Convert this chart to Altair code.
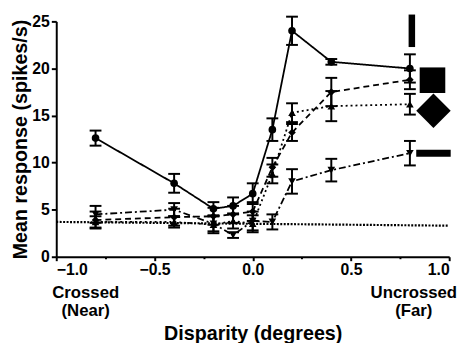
import altair as alt
import pandas as pd

# ---- data ----
disparity = [-0.8, -0.4, -0.2, -0.1, 0.0, 0.1, 0.2, 0.4, 0.8]

bar_mean = [12.6, 7.8, 5.1, 5.4, 6.7, 13.5, 24.0, 20.7, 20.0]
bar_err = [0.8, 1.0, 0.7, 0.9, 1.1, 1.2, 1.5, 0.3, 1.5]

square_mean = [3.9, 4.2, 4.3, 4.5, 4.8, 9.5, 13.2, 17.5, 18.8]
square_err = [0.9, 0.9, 0.9, 0.9, 1.0, 1.0, 0.9, 1.5, 1.0]

diamond_mean = [3.7, 3.7, 3.4, 3.8, 3.5, 8.8, 15.3, 16.0, 16.2]
diamond_err = [0.6, 0.6, 0.9, 0.8, 0.9, 1.0, 1.0, 1.6, 1.1]

dash_mean = [4.5, 5.0, 3.5, 2.3, 3.8, 3.7, 8.0, 9.2, 11.0]
dash_err = [0.9, 0.7, 0.8, 0.3, 1.0, 0.8, 1.3, 1.2, 1.3]

series_names = ["bar", "square", "diamond", "dash"]

baseline_x = [-1.0, 1.0]
baseline_y = [3.7, 3.3]

# stimulus glyphs (icon legend) positioned in data space
glyph_x = [0.81, 0.915, 0.92, 0.92]
glyph_y = [24.0, 18.75, 15.5, 11.0]

note_text = ["Crossed", "(Near)", "Uncrossed", "(Far)"]
note_x = [-0.85, -0.85, 0.82, 0.82]

x_ticks = [-1, -0.75, -0.5, -0.25, 0, 0.25, 0.5, 0.75, 1]
y_ticks = [0, 2.5, 5, 7.5, 10, 12.5, 15, 17.5, 20, 22.5, 25]

FONT = "Liberation Sans"

rows = []
for name, m, e in zip(series_names,
                      [bar_mean, square_mean, diamond_mean, dash_mean],
                      [bar_err, square_err, diamond_err, dash_err]):
    for x, mm, ee in zip(disparity, m, e):
        rows.append({"series": name, "x": x, "mean": mm,
                     "lo": mm - ee, "hi": mm + ee})
df = pd.DataFrame(rows)

xs = alt.Scale(domain=[-1, 1], nice=False, zero=False)
ys = alt.Scale(domain=[0, 25], nice=False)

x_axis = alt.Axis(
    values=x_ticks,
    labelExpr="datum.value % 0.5 == 0 ? format(datum.value, '.1f') : ''",
    title="Disparity (degrees)", titlePadding=47,
    tickSize={"condition": {"test": "datum.value % 0.5 != 0", "value": 2}, "value": 4},
    labelPadding=1, grid=False,
)
y_axis = alt.Axis(
    values=y_ticks,
    labelExpr="datum.value % 5 == 0 ? datum.value : ''",
    title="Mean response (spikes/s)", titlePadding=1,
    tickSize={"condition": {"test": "datum.value % 5 != 0", "value": 3}, "value": 5},
    labelPadding=2, grid=False,
)

dash_scale = alt.Scale(domain=series_names,
                       range=[[1, 0], [6, 4], [2, 3], [7, 3, 2, 3]])
shape_scale = alt.Scale(domain=series_names,
                        range=["circle", "diamond", "triangle-up", "triangle-down"])

base = alt.Chart(df)

lines = base.mark_line(color="black", strokeWidth=1.8).encode(
    x=alt.X("x:Q", scale=xs, axis=x_axis),
    y=alt.Y("mean:Q", scale=ys, axis=y_axis),
    strokeDash=alt.StrokeDash("series:N", scale=dash_scale, legend=None),
    detail="series:N",
)

points = base.mark_point(filled=True, color="black", opacity=1, size=60).encode(
    x=alt.X("x:Q", scale=xs),
    y=alt.Y("mean:Q", scale=ys),
    shape=alt.Shape("series:N", scale=shape_scale, legend=None),
)

rules = base.mark_rule(color="black", strokeWidth=2).encode(
    x=alt.X("x:Q", scale=xs), y=alt.Y("lo:Q", scale=ys), y2="hi:Q"
)
cap_lo = base.mark_tick(color="black", thickness=2, size=12, orient="horizontal", opacity=1).encode(
    x=alt.X("x:Q", scale=xs), y=alt.Y("lo:Q", scale=ys)
)
cap_hi = base.mark_tick(color="black", thickness=2, size=12, orient="horizontal", opacity=1).encode(
    x=alt.X("x:Q", scale=xs), y=alt.Y("hi:Q", scale=ys)
)

base_df = pd.DataFrame({"x": baseline_x, "y": baseline_y})
baseline = alt.Chart(base_df).mark_line(color="black", strokeWidth=2.2, strokeDash=[2, 1.5]).encode(
    x=alt.X("x:Q", scale=xs), y=alt.Y("y:Q", scale=ys)
)

glyph_paths = [
    "M-0.2,-1L0.2,-1L0.2,1L-0.2,1Z",
    "square",
    "diamond",
    "M-1,-0.2L1,-0.2L1,0.2L-1,0.2Z",
]
glyph_sizes = [1089, 676, 1225, 1225]
glyph_layers = []
for gx, gy, gp, gs in zip(glyph_x, glyph_y, glyph_paths, glyph_sizes):
    gdf = pd.DataFrame({"x": [gx], "y": [gy]})
    glyph_layers.append(
        alt.Chart(gdf).mark_point(shape=gp, size=gs, filled=True, color="black",
                                  opacity=1, strokeWidth=0).encode(
            x=alt.X("x:Q", scale=xs), y=alt.Y("y:Q", scale=ys)
        )
    )

note_layers = []
for i, (t, nx) in enumerate(zip(note_text, note_x)):
    ndf = pd.DataFrame({"t": [t], "x": [nx]})
    note_layers.append(
        alt.Chart(ndf).mark_text(
            font=FONT, fontWeight="bold", fontSize=17, color="black", baseline="middle"
        ).encode(
            x=alt.X("x:Q", scale=xs),
            y=alt.value(276 if i % 2 == 0 else 294),
            text="t:N",
        )
    )

chart = alt.layer(
    lines, baseline, rules, cap_lo, cap_hi, points, *glyph_layers, *note_layers
).properties(
    width=399, height=239,
    autosize=alt.AutoSizeParams(type="none"),
    padding={"left": 49, "top": 11, "right": 12, "bottom": 85},
).configure_view(stroke=None).configure_axis(
    domainColor="black", domainWidth=2, tickColor="black", tickWidth=2,
    labelFont=FONT, labelFontWeight="bold", labelFontSize=16, labelColor="black",
    titleFont=FONT, titleFontWeight="bold", titleFontSize=20, titleColor="black",
)

chart.save("out.html", embed_options={"renderer": "svg", "actions": False})
